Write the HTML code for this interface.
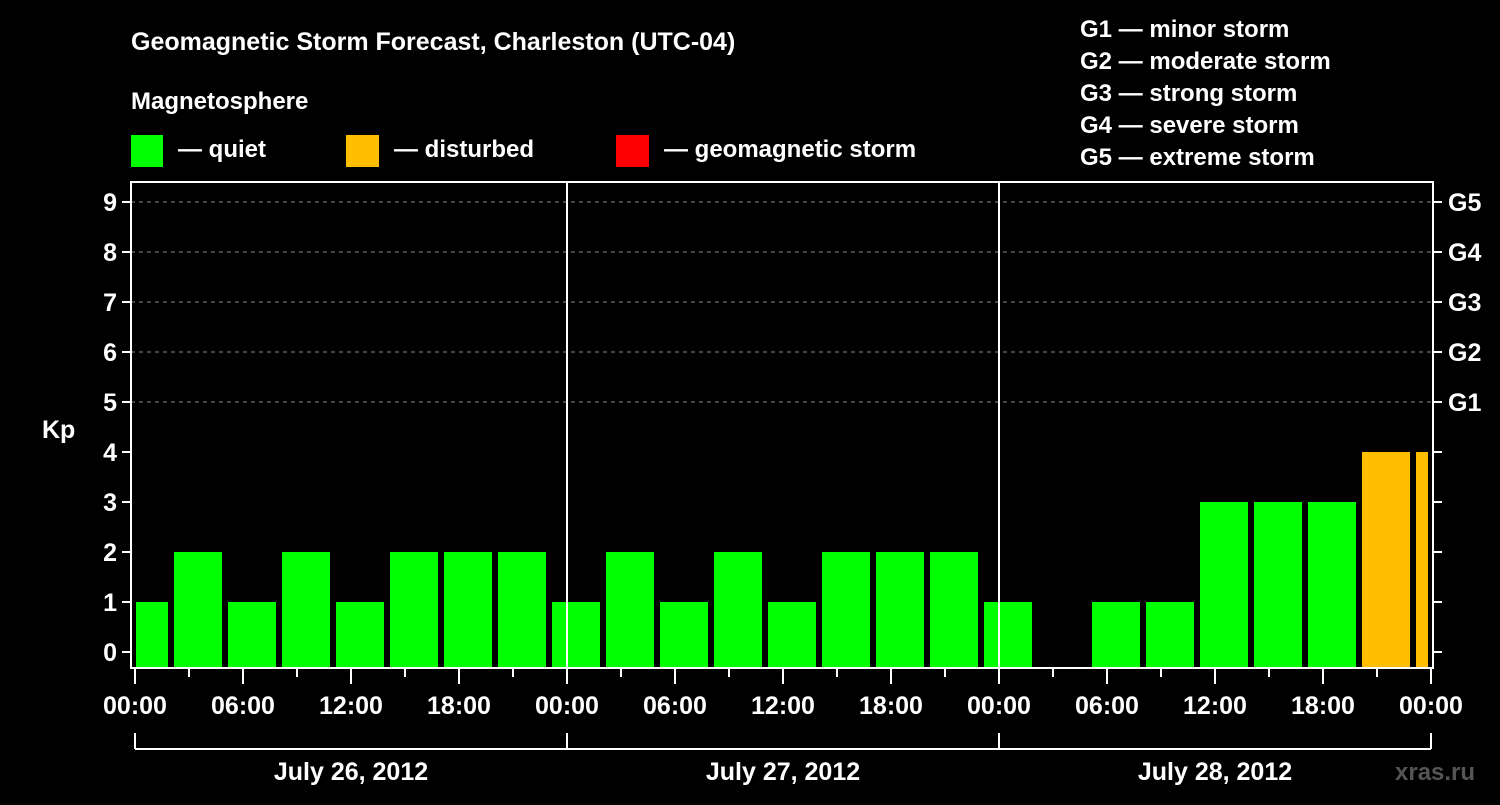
<!DOCTYPE html>
<html><head><meta charset="utf-8"><style>
body{margin:0;background:#000;width:1500px;height:800px;overflow:hidden}
svg text{font-family:"Liberation Sans",sans-serif;font-weight:bold;fill:#fff}
</style></head><body>
<svg id="c" width="1500" height="800">
<text x="131" y="50" font-size="25">Geomagnetic Storm Forecast, Charleston (UTC-04)</text>
<text x="131" y="109" font-size="24">Magnetosphere</text>
<g><rect x="131" y="135" width="32" height="32" fill="#00ff00"/><text x="178" y="157" font-size="24">— quiet</text></g>
<g><rect x="346" y="135" width="33" height="32" fill="#ffbf00"/><text x="394" y="157" font-size="24">— disturbed</text></g>
<g><rect x="616" y="135" width="33" height="32" fill="#ff0000"/><text x="664" y="157" font-size="24">— geomagnetic storm</text></g>
<g font-size="24">
<text x="1080" y="37">G1 — minor storm</text><text x="1080" y="69">G2 — moderate storm</text><text x="1080" y="101">G3 — strong storm</text><text x="1080" y="133">G4 — severe storm</text><text x="1080" y="165">G5 — extreme storm</text></g>
<text x="42" y="438" font-size="25">Kp</text>
<text x="1395" y="780" font-size="24" fill="#555" style="fill:#555">xras.ru</text>
<g id="plot"></g>
</svg>
<script>
const kpValues=[1,2,1,2,1,2,2,2, 1,2,1,2,1,2,2,2, 1,0,1,1,3,3,3,4,4];
const dayLabels=["July 26, 2012","July 27, 2012","July 28, 2012"];
const yTicks=[0,1,2,3,4,5,6,7,8,9];
const gLabels=["G1","G2","G3","G4","G5"];
const timeLabels=["00:00","06:00","12:00","18:00"];
const NS="http://www.w3.org/2000/svg";
const g=document.getElementById('plot');
const X0=135,PX_H=18,L=131,R=1433,T=182,B=668;
const xs=h=>X0+h*PX_H;
const ys=v=>652-50*v;
function mk(t,a,p){const e=document.createElementNS(NS,t);for(const k in a)e.setAttribute(k,a[k]);(p||g).appendChild(e);return e;}
// grid
for(let v=5;v<=9;v++){const e=mk('line',{x1:L,x2:R,y1:ys(v),y2:ys(v),stroke:'#888','stroke-dasharray':'4,4','stroke-width':1});

}
// bars
kpValues.forEach((v,i)=>{const c=X0+(i*3+0.5)*PX_H;let x1=Math.max(c-24,L+5),x2=Math.min(c+24,R-5);
if(v<=0)return;const col=v>=5?'#ff0000':v>=4?'#ffbf00':'#00ff00';
const r=mk('rect',{x:x1,y:ys(v),width:x2-x1,height:B-ys(v),fill:col});

});
// frame
const f=mk('rect',{x:L,y:T,width:R-L,height:B-T,fill:'none',stroke:'#fff','stroke-width':2});


for(let d=1;d<3;d++){const e=mk('line',{x1:xs(d*24),x2:xs(d*24),y1:T,y2:B,stroke:'#fff','stroke-width':2});

}
// y ticks
yTicks.forEach(v=>{mk('line',{x1:L-9,x2:L,y1:ys(v),y2:ys(v),stroke:'#fff','stroke-width':2});
mk('line',{x1:R,x2:R+9,y1:ys(v),y2:ys(v),stroke:'#fff','stroke-width':2});
const t=mk('text',{x:117,y:ys(v)+9,'text-anchor':'end','font-size':25});t.textContent=v;

});
gLabels.forEach((s,i)=>{const t=mk('text',{x:1448,y:ys(5+i)+9,'font-size':25});t.textContent=s;

});
// x ticks
for(let h=0;h<=72;h+=3){const major=h%6==0;mk('line',{x1:xs(h),x2:xs(h),y1:B,y2:B+(major?16:9),stroke:'#fff','stroke-width':2});
if(major){const t=mk('text',{x:xs(h),y:714,'text-anchor':'middle','font-size':25});t.textContent=timeLabels[(h/6)%4];

}}
// day bracket
mk('line',{x1:xs(0),x2:xs(72),y1:749,y2:749,stroke:'#fff','stroke-width':2});
for(let d=0;d<=3;d++)mk('line',{x1:xs(d*24),x2:xs(d*24),y1:733,y2:749,stroke:'#fff','stroke-width':2});
dayLabels.forEach((s,d)=>{const t=mk('text',{x:xs(d*24+12),y:780,'text-anchor':'middle','font-size':25});t.textContent=s;

});
</script>
</body></html>
